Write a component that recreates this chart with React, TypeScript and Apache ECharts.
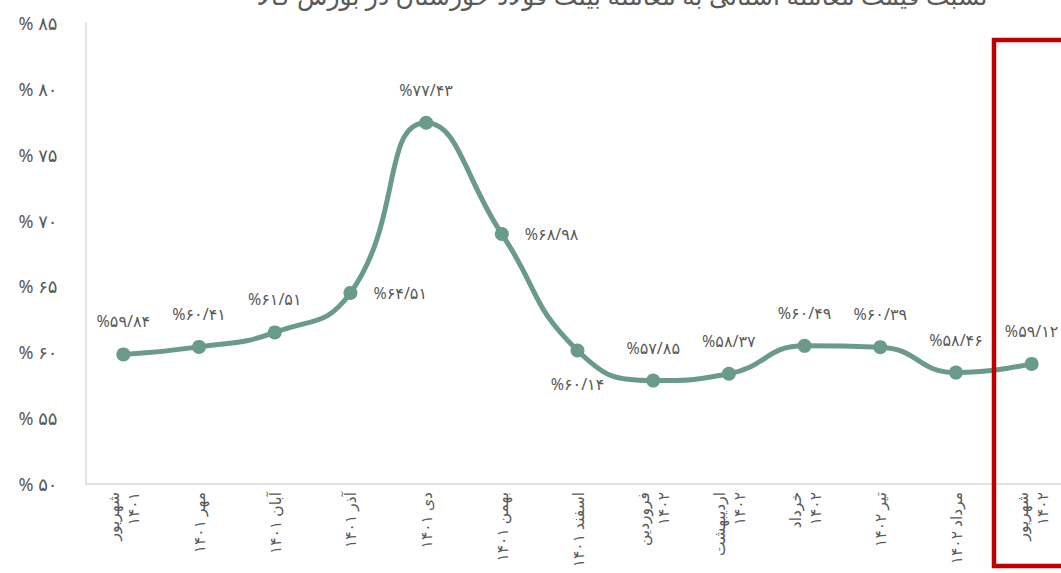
import React, { useEffect, useRef } from "react";
import * as echarts from "echarts";

const categories = [
  "شهریور\n۱۴۰۱",
  "مهر ۱۴۰۱",
  "آبان ۱۴۰۱",
  "آذر ۱۴۰۱",
  "دی ۱۴۰۱",
  "بهمن ۱۴۰۱",
  "اسفند ۱۴۰۱",
  "فروردین\n۱۴۰۲",
  "اردیبهشت\n۱۴۰۲",
  "خرداد\n۱۴۰۲",
  "تیر ۱۴۰۲",
  "مرداد ۱۴۰۲",
  "شهریور\n۱۴۰۲",
];

const values = [59.84, 60.41, 61.51, 64.51, 77.43, 68.98, 60.14, 57.85, 58.37, 60.49, 60.39, 58.46, 59.12];

const labelPositions = ["top", "top", "top", "right", "top", "right", "bottom", "top", "top", "top", "top", "top", "top"];

const titleText = "نسبت قیمت معامله استانی به معامله بیلت فولاد خوزستان در بورس کالا";

const FA = "۰۱۲۳۴۵۶۷۸۹";
const toFa = (s: string) => s.replace(/[0-9]/g, (d) => FA[+d]);

const FONT = "'Noto Sans', 'DejaVu Sans', sans-serif";
const TEXT = "#595959";
const GREEN = "#6a9a8a";

export default function App() {
  const ref = useRef<HTMLDivElement>(null);
  useEffect(() => {
    const chart = echarts.init(ref.current!, null, { renderer: "svg" });
    const data = values.map((v, i) => {
      const pos = labelPositions[i];
      return {
        value: v,
        label: {
          position: pos,
          distance: pos === "right" ? 16 : pos === "bottom" ? 19 : 18,
        },
      };
    });
    chart.setOption({
      animation: false,
      textStyle: { fontFamily: FONT },
      grid: { left: 85.5, top: 23, width: 984, height: 461, containLabel: false },
      xAxis: {
        type: "category",
        data: categories,
        boundaryGap: true,
        axisLine: { show: true, lineStyle: { color: "#d9d9d9", width: 1.5 } },
        axisTick: { show: false },
        axisLabel: {
          interval: 0,
          rotate: 90,
          color: TEXT,
          fontSize: 15.5,
          lineHeight: 20,
          margin: 8,
          fontFamily: FONT,
        },
      },
      yAxis: {
        type: "value",
        min: 50,
        max: 85,
        interval: 5,
        axisLine: { show: true, lineStyle: { color: "#d9d9d9", width: 1.5 } },
        axisTick: { show: false },
        splitLine: { show: false },
        axisLabel: {
          color: TEXT,
          fontSize: 18,
          margin: 28,
          fontFamily: FONT,
          formatter: (v: number) => "% " + toFa(String(v)),
        },
      },
      series: [
        {
          type: "line",
          data,
          smooth: 0.5,
          symbol: "circle",
          symbolSize: 14,
          lineStyle: { color: GREEN, width: 5 },
          itemStyle: { color: GREEN },
          label: {
            show: true,
            color: TEXT,
            fontSize: 16,
            fontFamily: FONT,
            formatter: (p: any) => "%" + toFa(p.value.toFixed(2).replace(".", "/")),
          },
        },
      ],
      graphic: [
        {
          type: "text",
          x: 622,
          y: -5,
          style: {
            text: titleText,
            fill: TEXT,
            fontSize: 25,
            fontFamily: FONT,
            align: "center",
            verticalAlign: "middle",
          },
        },
        {
          type: "rect",
          shape: { x: 994, y: 40, width: 200, height: 526 },
          style: { fill: "none", stroke: "#c00000", lineWidth: 4.5 },
          z: 100,
        },
      ],
    });
    return () => chart.dispose();
  }, []);
  return (
    <div style={{ position: "fixed", left: 0, top: 0, width: 1061, height: 573, overflow: "hidden", background: "#fff" }}>
      <div ref={ref} style={{ width: 1100, height: 573 }} />
    </div>
  );
}
